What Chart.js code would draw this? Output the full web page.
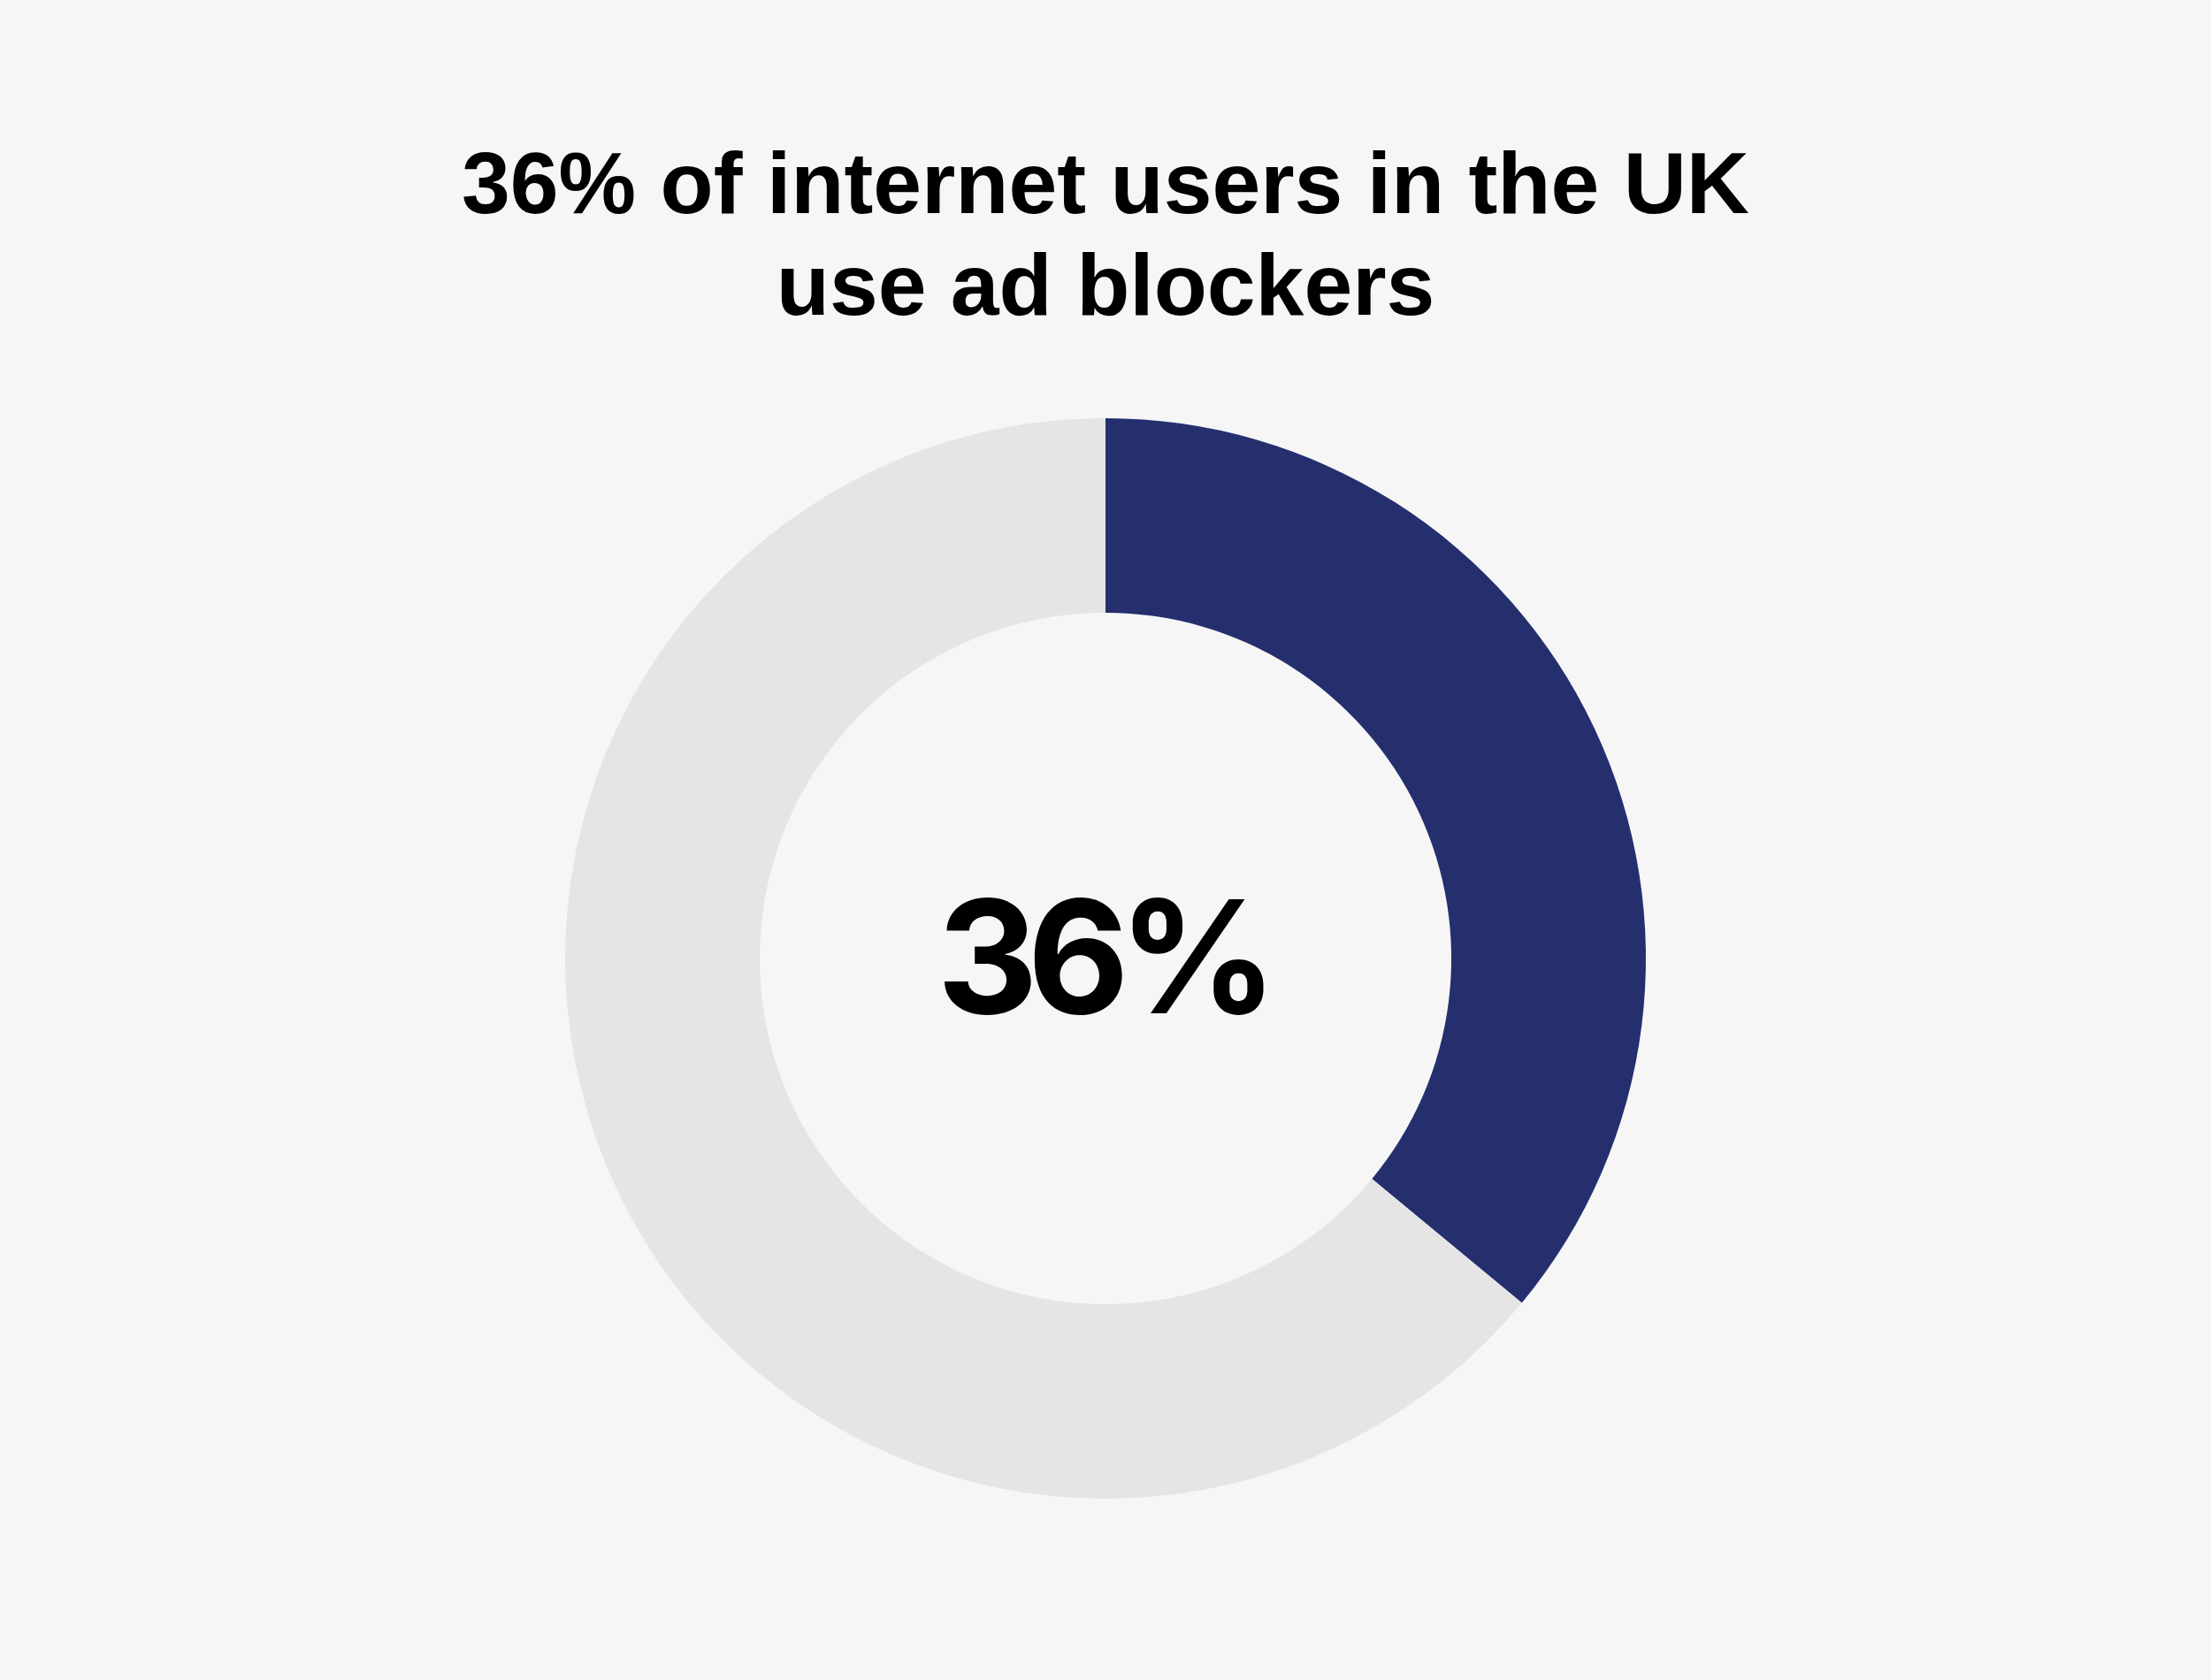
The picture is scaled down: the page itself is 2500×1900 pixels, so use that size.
<!DOCTYPE html>
<html>
<head>
<meta charset="utf-8">
<script src="https://cdn.jsdelivr.net/npm/chart.js@4.4.1/dist/chart.umd.min.js"></script>
<style>
  html, body { margin: 0; padding: 0; background: #f6f6f6; }
  #wrap { width: 2500px; height: 1900px; }
</style>
</head>
<body>
<div id="wrap"><canvas id="adChart" width="2500" height="1900"></canvas></div>
<script>
// data
const labels = ['Use ad blockers', "Don't use ad blockers"];
const shares = [36, 64];
const titleLines = ['36% of internet users in the UK', 'use ad blockers'];
const centerLabel = '36%';

const COLORS = {
    navy: '#252f6e',
    grey: '#e5e5e5',
    bg: '#f6f6f6',
    text: '#000000',
};

// text in the hole of the donut
const centerText = {
    id: 'centerText',
    afterDraw(chart) {
        const meta = chart.getDatasetMeta(0);
        if (!meta.data.length) return;
        const arc = meta.data[0];
        const ctx = chart.ctx;
        ctx.save();
        ctx.font = "bold 177px Inter, 'Noto Sans', sans-serif";
        ctx.letterSpacing = '-12px';
        ctx.fillStyle = COLORS.text;
        ctx.textAlign = 'center';
        ctx.textBaseline = 'alphabetic';
        ctx.fillText(centerLabel, arc.x - 4, arc.y + 62);
        ctx.restore();
    }
};

new Chart(document.getElementById('adChart'), {
    type: 'doughnut',
    data: {
        labels: labels,
        datasets: [{
            data: shares,
            backgroundColor: [COLORS.navy, COLORS.grey],
            borderWidth: 0,
            hoverOffset: 0,
        }]
    },
    options: {
        responsive: false,
        devicePixelRatio: 1,
        animation: false,
        cutout: '64%',
        layout: { padding: { top: 0, bottom: 205, left: 0, right: 0 } },
        plugins: {
            legend: { display: false },
            tooltip: { enabled: false },
            title: {
                display: true,
                text: titleLines,
                color: COLORS.text,
                font: { family: "'Liberation Sans', Arial, sans-serif", size: 98.5, weight: 'bold', lineHeight: 1.1675 },
                padding: { top: 156, bottom: 87 },
            }
        }
    },
    plugins: [centerText]
});
</script>
</body>
</html>
